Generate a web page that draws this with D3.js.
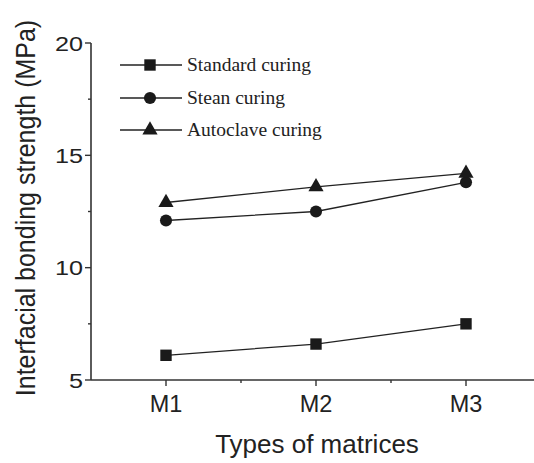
<!DOCTYPE html>
<html>
<head>
<meta charset="utf-8">
<script src="https://cdn.jsdelivr.net/npm/d3@7"></script>
<style>
  html, body { margin: 0; padding: 0; background: #fff; }
  svg { display: block; }
</style>
</head>
<body>
<svg id="chart" width="534" height="463"></svg>
<script>
// Matrix types along the x axis
const categories = ["M1", "M2", "M3"];
// Interfacial bonding strength (MPa) for each curing regime
const standardCuring = [6.1, 6.6, 7.5];
const steamCuring = [12.1, 12.5, 13.8];
const autoclaveCuring = [12.9, 13.6, 14.2];
const seriesNames = ["Standard curing", "Stean curing", "Autoclave curing"];
const yTicks = [5, 10, 15, 20];
const yMinorTicks = [7.5, 12.5, 17.5];
const xMinorTicks = [1.5, 2.5];

const series = [
  { name: seriesNames[0], values: standardCuring, symbol: d3.symbolSquare, size: 130 },
  { name: seriesNames[1], values: steamCuring, symbol: d3.symbolCircle, size: 115 },
  { name: seriesNames[2], values: autoclaveCuring, symbol: d3.symbolTriangle, size: 100 }
];

const svg = d3.select("#chart");
const ink = "#1a1a1a";
const axisInk = "#333";
const sans = "Liberation Sans, Arial, sans-serif";

const x = d3.scaleLinear().domain([0.5, 3.5]).range([91, 541]);
const y = d3.scaleLinear().domain([5, 20]).range([380, 43]);

// Y axis
const yAxis = svg.append("g").attr("transform", `translate(${x(0.5)},0)`);
yAxis.append("line")
  .attr("x1", 0).attr("x2", 0).attr("y1", y(20)).attr("y2", y(5))
  .attr("stroke", axisInk).attr("stroke-width", 1.6);
yAxis.selectAll(".major").data(yTicks).join("line")
  .attr("x1", -6).attr("x2", 0)
  .attr("y1", d => y(d)).attr("y2", d => y(d))
  .attr("stroke", axisInk).attr("stroke-width", 1.4);
yAxis.selectAll(".minor").data(yMinorTicks).join("line")
  .attr("x1", -3).attr("x2", 0)
  .attr("y1", d => y(d)).attr("y2", d => y(d))
  .attr("stroke", axisInk).attr("stroke-width", 1.4);
yAxis.selectAll("text").data(yTicks).join("text")
  .attr("transform", d => `translate(-8,${y(d)}) scale(1.2,1)`)
  .attr("dy", "0.36em")
  .attr("text-anchor", "end")
  .attr("font-family", sans)
  .attr("font-size", 21)
  .attr("fill", "#222")
  .text(d => d);

// X axis
const xAxis = svg.append("g").attr("transform", `translate(0,${y(5)})`);
xAxis.append("line")
  .attr("x1", x(0.5)).attr("x2", x(3.5)).attr("y1", 0).attr("y2", 0)
  .attr("stroke", axisInk).attr("stroke-width", 1.6);
xAxis.selectAll(".major").data(categories).join("line")
  .attr("x1", (d, i) => x(i + 1)).attr("x2", (d, i) => x(i + 1))
  .attr("y1", 0).attr("y2", 6)
  .attr("stroke", axisInk).attr("stroke-width", 1.4);
xAxis.selectAll(".minor").data(xMinorTicks).join("line")
  .attr("x1", d => x(d)).attr("x2", d => x(d))
  .attr("y1", 0).attr("y2", 3)
  .attr("stroke", axisInk).attr("stroke-width", 1.4);
xAxis.selectAll("text").data(categories).join("text")
  .attr("x", (d, i) => x(i + 1)).attr("y", 32)
  .attr("text-anchor", "middle")
  .attr("font-family", sans)
  .attr("font-size", 23.5)
  .attr("fill", "#222")
  .text(d => d);

// Axis titles
svg.append("text")
  .attr("x", 317).attr("y", 453)
  .attr("text-anchor", "middle")
  .attr("font-family", sans)
  .attr("font-size", 26)
  .attr("fill", "#222")
  .text("Types of matrices");
svg.append("text")
  .attr("transform", "translate(35,208) scale(1.1,1) rotate(-90)")
  .attr("text-anchor", "middle")
  .attr("font-family", sans)
  .attr("font-size", 25)
  .attr("fill", "#222")
  .text("Interfacial bonding strength (MPa)");

// Series lines and markers
const line = d3.line().x((d, i) => x(i + 1)).y(d => y(d));
const plot = svg.append("g");
series.forEach(s => {
  plot.append("path")
    .attr("d", line(s.values))
    .attr("fill", "none")
    .attr("stroke", "#222")
    .attr("stroke-width", 1.3);
  plot.selectAll(null).data(s.values).join("path")
    .attr("transform", (d, i) => `translate(${x(i + 1)},${y(d)})`)
    .attr("d", d3.symbol().type(s.symbol).size(s.size))
    .attr("fill", ink);
});

// Legend
const legend = svg.append("g");
const rowY = [65, 98, 130];
series.forEach((s, i) => {
  const g = legend.append("g").attr("transform", `translate(0,${rowY[i]})`);
  g.append("line").attr("x1", 120).attr("x2", 182).attr("y1", 0).attr("y2", 0)
    .attr("stroke", "#222").attr("stroke-width", 1.3);
  g.append("path").attr("transform", "translate(150,0)")
    .attr("d", d3.symbol().type(s.symbol).size(s.size))
    .attr("fill", ink);
  g.append("text").attr("x", 187).attr("y", 0).attr("dy", "0.3em")
    .attr("font-family", "Liberation Serif, Times New Roman, serif")
    .attr("font-size", 19.5)
    .attr("fill", "#222")
    .text(s.name);
});
</script>
</body>
</html>
